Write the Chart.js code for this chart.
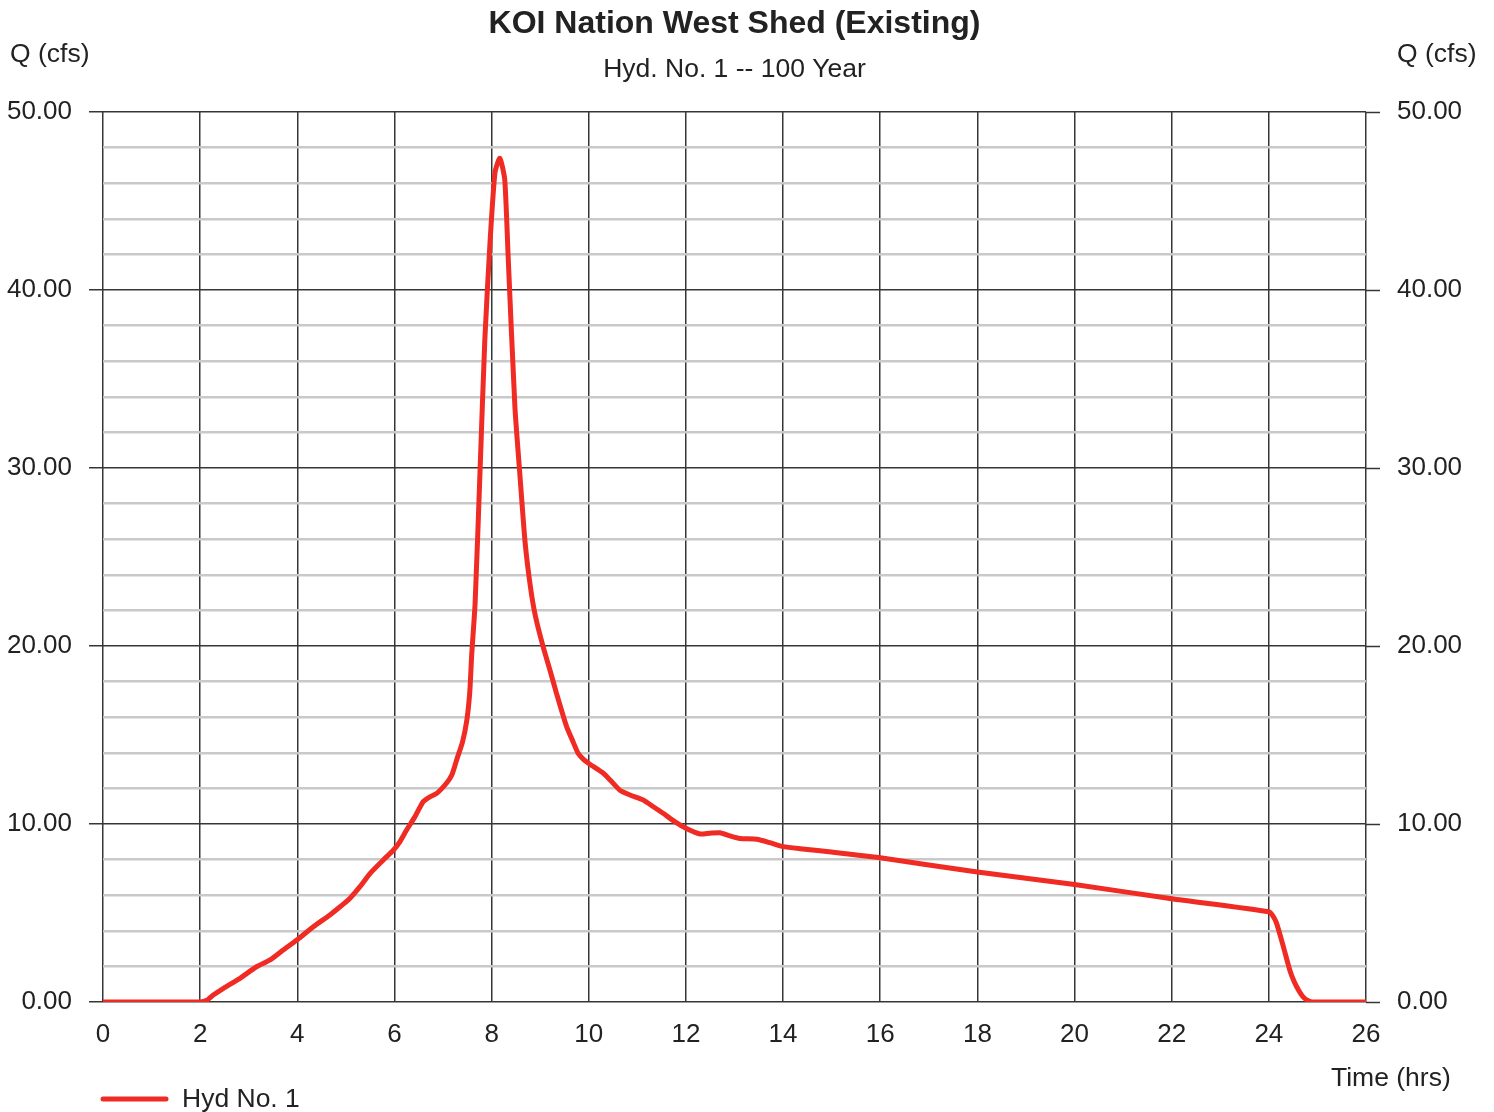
<!DOCTYPE html>
<html lang="en">

<head>
    <meta charset="UTF-8">
    <title>KOI Nation West Shed (Existing)</title>
    <script src="https://cdn.jsdelivr.net/npm/chart.js"></script>
    <style>
        html, body { margin: 0; padding: 0; background: #fff; }
    </style>
</head>

<body>
    <canvas id="hydroChart" width="1494" height="1112"></canvas>

    <script>
        // Hydrograph values
        const timeHrs = [0, 2.0, 2.15, 2.27, 2.48, 2.82, 3.16, 3.44, 3.71, 3.99, 4.33, 4.67, 4.88, 5.08, 5.29,
            5.50, 5.77, 5.98, 6.11, 6.25, 6.42, 6.59, 6.73, 6.87, 7.07, 7.18, 7.28, 7.40, 7.49, 7.55, 7.59,
            7.66, 7.76, 7.86, 7.97, 8.07, 8.17, 8.27, 8.34, 8.48, 8.58, 8.69, 8.80, 8.90, 9.06, 9.20,
            9.34, 9.54, 9.68, 9.78, 9.89, 10.0, 10.30, 10.44, 10.64, 10.85, 11.12, 11.33, 11.53, 11.77, 12.0,
            12.29, 12.49, 12.70, 12.91, 13.11, 13.46, 13.73, 14.0, 14.35, 14.76, 16.0, 18.0, 20.0, 22.0,
            24.0, 24.08, 24.16, 24.30, 24.43, 24.52, 24.61, 24.70, 24.81, 24.9, 26];
        const flowCfs = [0, 0, 0.12, 0.39, 0.77, 1.33, 1.98, 2.36, 2.92, 3.48, 4.23, 4.89, 5.35, 5.82, 6.48,
            7.23, 7.98, 8.54, 9.0, 9.66, 10.4, 11.25, 11.53, 11.72, 12.29, 12.75, 13.6, 14.6, 15.84, 17.4, 19.5,
            22.4, 29.7, 37.2, 42.8, 46.6, 47.4, 46.2, 41.9, 33.4, 29.7, 25.8, 23.3, 21.7, 19.96, 18.65,
            17.3, 15.5, 14.6, 13.97, 13.63, 13.4, 12.85, 12.47, 11.9, 11.63, 11.35, 10.97, 10.6, 10.13, 9.76,
            9.44, 9.48, 9.51, 9.33, 9.19, 9.14, 8.95, 8.73, 8.61, 8.5, 8.1, 7.3, 6.6, 5.8,
            5.07, 4.85, 4.42, 3.1, 1.8, 1.15, 0.67, 0.3, 0.07, 0, 0];

        const chartTitle = 'KOI Nation West Shed (Existing)';
        const chartSubtitle = 'Hyd. No. 1 -- 100 Year';
        const yAxisLabel = 'Q (cfs)';
        const xAxisLabel = 'Time (hrs)';
        const seriesLabel = 'Hyd No. 1';

        const FONT = "'Liberation Sans', Arial, sans-serif";
        const RED = '#ef2b24';
        const TEXT = '#222';

        // grid helpers: dark every 10 cfs, light grey in between
        const isMajor = (v) => Math.abs(v % 10) < 1e-6;
        const gridColor = (ctx) => isMajor(ctx.tick.value) ? '#363636' : '#c9c9c9';
        const gridWidth = (ctx) => isMajor(ctx.tick.value) ? 1.5 : 2.4;
        const tickColor = (ctx) => isMajor(ctx.tick.value) ? '#363636' : 'rgba(0,0,0,0)';
        const tickLabel = (v) => isMajor(v) ? v.toFixed(2) : '';

        // titles, axis captions and legend drawn around the plot
        const textLayer = {
            id: 'textLayer',
            afterDraw(chart) {
                const c = chart.ctx;
                const area = chart.chartArea;
                const mid = (area.left + area.right) / 2;
                c.save();
                c.fillStyle = TEXT;
                c.textBaseline = 'alphabetic';

                c.textAlign = 'center';
                c.font = 'bold 32px ' + FONT;
                c.fillText(chartTitle, mid, 33);
                c.font = '26.5px ' + FONT;
                c.fillText(chartSubtitle, mid, 77);

                c.textAlign = 'left';
                c.font = '26.5px ' + FONT;
                c.fillText(yAxisLabel, 10, 62);
                c.fillText(yAxisLabel, 1397, 62);
                c.fillText(xAxisLabel, 1331, 1086);
                c.fillText(seriesLabel, 182, 1107);

                c.strokeStyle = RED;
                c.lineWidth = 5;
                c.lineCap = 'round';
                c.beginPath();
                c.moveTo(103, 1099);
                c.lineTo(166, 1099);
                c.stroke();
                c.restore();
            }
        };

        const yTicks = {
            stepSize: 2,
            autoSkip: false,
            padding: 17,
            color: TEXT,
            font: { family: FONT, size: 26 },
            callback: tickLabel
        };

        new Chart(document.getElementById('hydroChart'), {
            type: 'line',
            data: {
                datasets: [{
                    label: seriesLabel,
                    data: timeHrs.map((t, i) => ({ x: t, y: flowCfs[i] })),
                    borderColor: RED,
                    borderWidth: 5,
                    pointRadius: 0,
                    tension: 0.2,
                    borderJoinStyle: 'round',
                    borderCapStyle: 'round',
                    fill: false
                }]
            },
            options: {
                responsive: false,
                animation: false,
                devicePixelRatio: 1,
                layout: { padding: { top: 112, left: 0, right: 0, bottom: 0 } },
                plugins: {
                    legend: { display: false },
                    title: { display: false },
                    tooltip: { enabled: false }
                },
                scales: {
                    x: {
                        type: 'linear',
                        min: 0,
                        max: 26,
                        border: { display: false },
                        grid: { color: '#363636', lineWidth: 1.5, drawTicks: false },
                        ticks: {
                            stepSize: 2,
                            padding: 17,
                            color: TEXT,
                            font: { family: FONT, size: 26 },
                            maxRotation: 0
                        },
                        afterFit: (scale) => { scale.height = 110; }
                    },
                    y: {
                        position: 'left',
                        min: 0,
                        max: 50,
                        border: { display: false },
                        grid: { color: gridColor, lineWidth: gridWidth, tickColor: tickColor, tickWidth: 1.5, tickLength: 14 },
                        ticks: yTicks,
                        afterFit: (scale) => { scale.width = 103; }
                    },
                    y2: {
                        position: 'right',
                        min: 0,
                        max: 50,
                        border: { display: false },
                        grid: { drawOnChartArea: false, tickColor: tickColor, tickWidth: 1.5, tickLength: 14 },
                        ticks: yTicks,
                        afterFit: (scale) => { scale.width = 128; }
                    }
                }
            },
            plugins: [textLayer]
        });
    </script>
</body>

</html>
